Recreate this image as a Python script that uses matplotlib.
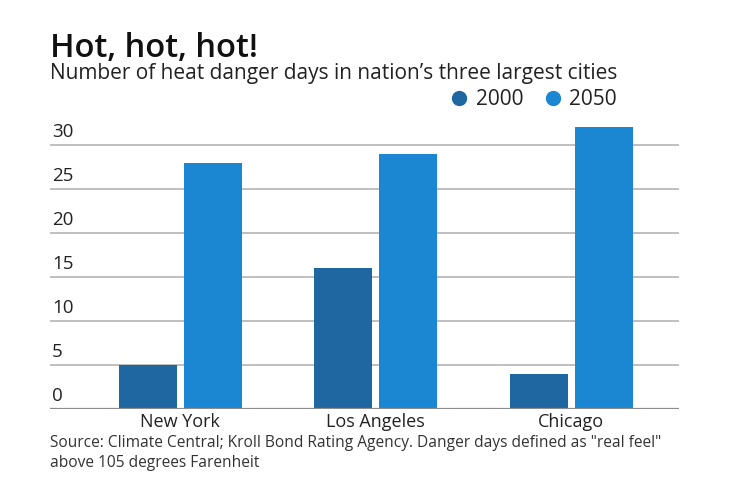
import matplotlib
matplotlib.use("Agg")
import matplotlib.pyplot as plt
from matplotlib.lines import Line2D
import numpy as np

# data
cities = ["New York", "Los Angeles", "Chicago"]
days_2000 = [5, 16, 4]
days_2050 = [28, 29, 32]
yticks = [0, 5, 10, 15, 20, 25, 30]

c2000 = "#1f67a0"
c2050 = "#1b86d1"

plt.rcParams["font.family"] = ["Open Sans", "DejaVu Sans"]

fig = plt.figure(figsize=(7.4, 4.82), dpi=100)
ax = fig.add_axes([0.0676, 0.1515, 0.85, 0.5934])

x = np.arange(len(cities))
w = 0.297
off = 0.166
ax.bar(x - off, days_2000, width=w, color=c2000, zorder=3)
ax.bar(x + off, days_2050, width=w, color=c2050, zorder=3)

ax.set_xlim(-0.665, 2.55)
ax.set_ylim(0, 32.5)

#### grid and labels ####
for v in yticks[1:]:
    ax.axhline(v, color="#b4b4b4", lw=1.2, zorder=1)
ax.axhline(0, color="#8c8c8c", lw=1.6, zorder=4)
for v in yticks:
    ax.text(0.003, v + 0.5, str(v), transform=ax.get_yaxis_transform(),
            fontsize=13.5, color="#222222", ha="left", va="bottom")

ax.set_xticks(x)
ax.set_xticklabels(cities, fontsize=13, color="#222222")
ax.tick_params(axis="x", length=0, pad=3)
ax.set_yticks([])
for s in ax.spines.values():
    s.set_visible(False)

fig.text(0.068, 0.882, "Hot, hot, hot!", fontsize=23.5, color="#111111",
         fontweight="semibold", va="baseline")
fig.text(0.067, 0.836, "Number of heat danger days in nation\u2019s three largest cities",
         fontsize=15, color="#222222", va="baseline")

handles = [Line2D([], [], marker="o", ls="", color=c2000, markersize=10),
           Line2D([], [], marker="o", ls="", color=c2050, markersize=10)]
fig.legend(handles, ["2000", "2050"], ncol=2, frameon=False, fontsize=15,
           loc="center right", bbox_to_anchor=(0.845, 0.793), borderaxespad=0,
           handletextpad=0.3, columnspacing=0.9, handlelength=1.0,
           labelcolor="#222222")

fig.text(0.067, 0.073, "Source: Climate Central; Kroll Bond Rating Agency. Danger days defined as \"real feel\"",
         fontsize=11.2, color="#333333", va="baseline")
fig.text(0.067, 0.032, "above 105 degrees Farenheit",
         fontsize=11.2, color="#333333", va="baseline")

fig.savefig("out.png", dpi=100, facecolor="white")
